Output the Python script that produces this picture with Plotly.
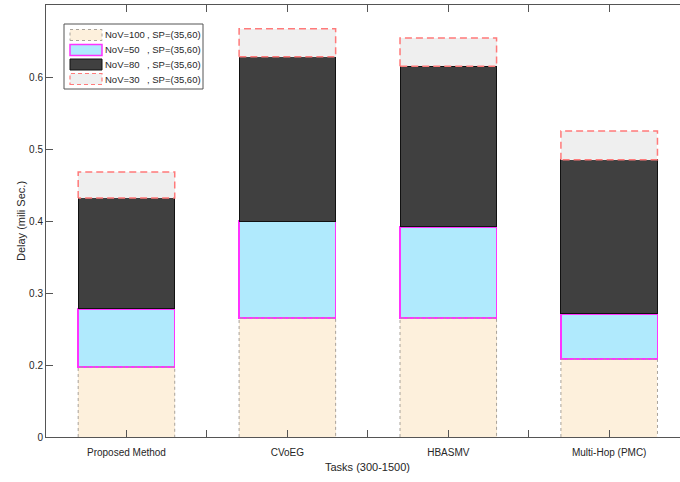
import plotly.graph_objects as go

# Methods compared (x categories)
methods = ["Proposed Method", "CVoEG", "HBASMV", "Multi-Hop (PMC)"]

# Stacked delay segments (mili sec.) per scenario, bottom to top
nov100 = [0.197, 0.265, 0.265, 0.208]
nov50 = [0.081, 0.135, 0.127, 0.063]
nov80 = [0.154, 0.228, 0.223, 0.214]
nov30 = [0.036, 0.039, 0.039, 0.040]

series_names = ["NoV=100", "NoV=50", "NoV=80", "NoV=30"]
sp_label = ", SP=(35,60)"

y_tickvals = [0.1, 0.2, 0.3, 0.4, 0.5, 0.6, 0.7]
y_ticktext = ["0", "0.2", "0.3", "0.4", "0.5", "0.6", "0.7"]

xs = list(range(len(methods)))
bar_w = 0.6
half = bar_w / 2

fig = go.Figure()

fill_beige = "#FDF0DC"
fill_blue = "#B0EAFD"
fill_dark = "#404040"
fill_gray = "#EFEFEF"
red_dash = "#FF7A7A"
dot_gray = "#A8A29A"

fig.add_trace(go.Bar(x=xs, y=nov100, width=bar_w, marker=dict(color=fill_beige, line=dict(width=0)),
                     name=series_names[0], showlegend=False))
fig.add_trace(go.Bar(x=xs, y=nov50, width=bar_w, marker=dict(color=fill_blue, line=dict(color="#FF33FF", width=1.5)),
                     name=series_names[1], showlegend=False))
fig.add_trace(go.Bar(x=xs, y=nov80, width=bar_w, marker=dict(color=fill_dark, line=dict(color="#111111", width=1)),
                     name=series_names[2], showlegend=False))
fig.add_trace(go.Bar(x=xs, y=nov30, width=bar_w, marker=dict(color=fill_gray, line=dict(width=0)),
                     name=series_names[3], showlegend=False))

# Dotted outline of the bottom segment (sides and top)
ox, oy = [], []
for i, v in zip(xs, nov100):
    ox += [i - half, i - half, i + half, i + half, None]
    oy += [0, v, v, 0, None]
fig.add_trace(go.Scatter(x=ox, y=oy, mode="lines", line=dict(color=dot_gray, width=1, dash="dot"),
                         hoverinfo="skip", showlegend=False))

# Dashed outline of the top segment
ox, oy = [], []
for i in xs:
    base = nov100[i] + nov50[i] + nov80[i]
    top = base + nov30[i]
    ox += [i - half, i - half, i + half, i + half, i - half, None]
    oy += [base, top, top, base, base, None]
fig.add_trace(go.Scatter(x=ox, y=oy, mode="lines", line=dict(color=red_dash, width=1.5, dash="7px,4px"),
                         hoverinfo="skip", showlegend=False))

x_tickvals = [k * 0.5 for k in range(0, 8)]
x_ticktext = []
for k in range(0, 8):
    x_ticktext.append(methods[k // 2] if k % 2 == 0 else "")

axis_col = "#555555"
font_fam = "Liberation Sans, Arial, sans-serif"

fig.update_layout(
    width=680, height=482,
    margin=dict(l=46, r=0, t=5, b=45),
    barmode="stack",
    plot_bgcolor="white", paper_bgcolor="white",
    font=dict(family=font_fam, size=10, color="#262626"),
    xaxis=dict(range=[-0.5, 3.44], tickvals=x_tickvals, ticktext=x_ticktext,
               ticks="inside", ticklen=7, tickcolor=axis_col, showline=True, linecolor=axis_col,
               linewidth=1, mirror="ticks", showgrid=False, zeroline=False,
               ticklabelstandoff=6,
               tickfont=dict(size=10, color="#262626")),
    yaxis=dict(range=[0.1, 0.7], tickvals=y_tickvals, ticktext=y_ticktext,
               ticks="inside", ticklen=7, tickcolor=axis_col, showline=True, linecolor=axis_col,
               linewidth=1, showgrid=False, zeroline=False,
               tickfont=dict(size=10, color="#262626"),
               title=dict(text="Delay (mili Sec.)", font=dict(size=11, color="#262626"), standoff=1)),
    showlegend=False,
)

# X axis title centred on the full axis span
fig.add_annotation(text="Tasks (300-1500)", xref="x", yref="paper", x=1.5, y=0, yshift=-30,
                   showarrow=False, font=dict(size=11, color="#262626"), yanchor="middle")

# Legend box drawn in pixel-based paper coordinates
l, t, pw, ph = 46, 5, 634, 432


def px(xp):
    return (xp - l) / pw


def py(yp):
    return 1 - (yp - t) / ph


shapes = [dict(type="rect", xref="paper", yref="paper", x0=px(64), x1=px(203), y0=py(89), y1=py(24),
               line=dict(color="#555555", width=1), fillcolor="white", layer="above")]
swatch_styles = [
    (fill_beige, dict(color=dot_gray, width=1, dash="dot")),
    (fill_blue, dict(color="#FF33FF", width=1.5)),
    (fill_dark, dict(color="#111111", width=1)),
    (fill_gray, dict(color=red_dash, width=1.2, dash="4px,3px")),
]
row_y = [35, 50, 64.5, 79]
for (fc, ln), ry, name in zip(swatch_styles, row_y, series_names):
    shapes.append(dict(type="rect", xref="paper", yref="paper", x0=px(70), x1=px(102),
                       y0=py(ry + 5.5), y1=py(ry - 5.5), fillcolor=fc, line=ln, layer="above"))
    fig.add_annotation(text=name, xref="paper", yref="paper", x=px(103), y=py(ry), xanchor="left",
                       yanchor="middle", showarrow=False, font=dict(size=9.5, color="#262626"))
    fig.add_annotation(text=sp_label, xref="paper", yref="paper", x=px(145), y=py(ry), xanchor="left",
                       yanchor="middle", showarrow=False, font=dict(size=9.5, color="#262626"))
fig.update_layout(shapes=shapes)

fig.write_html("out.html")
